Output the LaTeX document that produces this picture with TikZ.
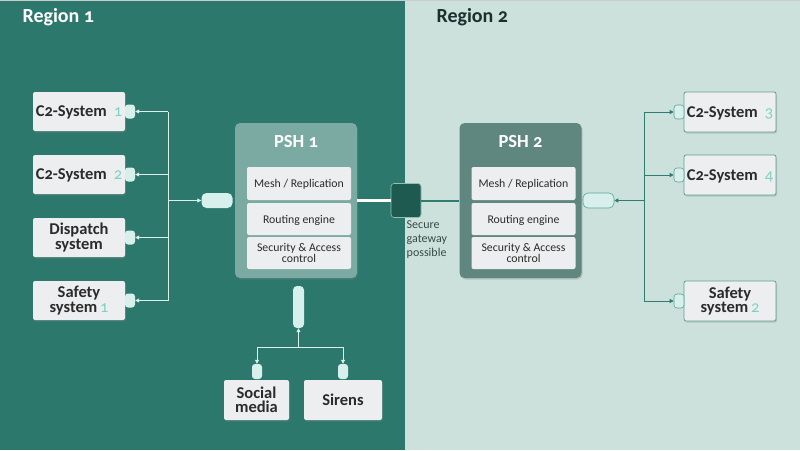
\documentclass[tikz,border=0pt]{standalone}
\usepackage{fontspec}
\setmainfont{Carlito}[Numbers=OldStyle]
\usetikzlibrary{shadows,arrows.meta}
\definecolor{bgdark}{HTML}{2C786D}
\definecolor{bglight}{HTML}{CCE0DC}
\definecolor{boxfill}{HTML}{ECEEEF}
\definecolor{txt}{HTML}{2B2B2B}
\definecolor{mint}{HTML}{D7F0EB}
\definecolor{mintdig}{HTML}{7DD3C1}
\definecolor{pshone}{HTML}{7AAAA2}
\definecolor{pshtwo}{HTML}{5F877F}
\definecolor{gate}{HTML}{1F5A50}
\definecolor{gateborder}{HTML}{8FBFB6}
\definecolor{lline}{HTML}{DCEFEA}
\definecolor{rline}{HTML}{2E7D70}
\definecolor{rborder}{HTML}{5CA597}
\definecolor{rtwotext}{HTML}{1B302C}
\definecolor{gwtext}{HTML}{3A4A47}
\newcommand\dg[1]{{\color{mintdig}\mdseries #1}}
\begin{document}
\begin{tikzpicture}[x=1pt,y=-1pt,
 sysbox/.style={fill=boxfill, rounded corners=2pt, minimum width=92pt, minimum height=39pt, inner sep=0pt, align=center, text=txt, font=\fontsize{16.5}{14.5}\selectfont\bfseries, drop shadow={opacity=0.3, shadow xshift=1pt, shadow yshift=-1.5pt}},
 rsysbox/.style={sysbox, draw=rborder, line width=0.8pt, minimum height=40pt},
 oneline/.style={text depth=0pt},
 port/.style={fill=mint, rounded corners=3pt, inner sep=0pt, minimum width=10pt, minimum height=14pt},
 rport/.style={port, draw=rborder, line width=0.6pt},
 hub/.style={fill=mint, rounded corners=5pt, inner sep=0pt, minimum width=31pt, minimum height=15pt},
 psh/.style={rounded corners=5pt, minimum width=122pt, minimum height=155pt, inner sep=0pt, drop shadow={opacity=0.3, shadow xshift=1pt, shadow yshift=-1.5pt}},
 pshtitle/.style={text=white, font=\fontsize{18.5}{18}\selectfont\bfseries},
 innerbox/.style={fill=boxfill, rounded corners=2pt, minimum width=104pt, inner sep=0pt, align=center, text=txt, font=\fontsize{11.8}{10.5}\selectfont},
 lconn/.style={draw=lline, line width=0.8pt},
 rconn/.style={draw=rline, line width=0.8pt},
 arrowtip/.style={-{Triangle[length=4pt,width=4pt]}},
]
\useasboundingbox (0,0) rectangle (800,450);
\fill[bgdark] (0,0) rectangle (405,450);
\fill[bglight] (405,0) rectangle (800,450);
\fill[black!20] (0,0) rectangle (800,1);

\node[anchor=west, text=white, font=\fontsize{20}{20}\selectfont\bfseries] (reg1) at (19,17) {Region 1};
\node[anchor=west, text=rtwotext, font=\fontsize{20}{20}\selectfont\bfseries] (reg2) at (433,17) {Region 2};

% left systems
\node[sysbox, oneline] (c1) at (79,111.5) {C2-System\hspace{7pt}\dg{1}};
\node[sysbox, oneline] (c2) at (79,174.5) {C2-System\hspace{7pt}\dg{2}};
\node[sysbox] (ds) at (79,237.5) {Dispatch\\system};
\node[sysbox] (s1) at (79,300.5) {Safety\\system\,\dg{1}};
\node[port] (p1) at (130,111.5) {};
\node[port] (p2) at (130,174.5) {};
\node[port] (p3) at (130,237.5) {};
\node[port] (p4) at (130,300.5) {};
\node[hub] (hl) at (217,200.5) {};
\coordinate (jl) at (168,200.5);
\draw[lconn] (jl |- p1) -- (jl |- p4);
\draw[lconn,arrowtip] (jl |- p1) -- (p1.east);
\draw[lconn,arrowtip] (jl |- p2) -- (p2.east);
\draw[lconn,arrowtip] (jl |- p3) -- (p3.east);
\draw[lconn,arrowtip] (jl |- p4) -- (p4.east);
\draw[lconn,arrowtip] (jl) -- (hl.west);

% PSH 1
\node[psh, fill=pshone] (psh1) at (296,200.5) {};
\node[pshtitle, oneline] (t1) at (296,141) {PSH 1};
\node[innerbox, oneline, minimum height=33pt] (m1) at (299,183.5) {Mesh / Replication};
\node[innerbox, oneline, minimum height=32pt] (re1) at (299,219) {Routing engine};
\node[innerbox, minimum height=32pt] (sa1) at (299,253) {Security \& Access\\control};

% PSH 2
\node[psh, fill=pshtwo] (psh2) at (520.5,200.5) {};
\node[pshtitle, oneline] (t2) at (520.5,141) {PSH 2};
\node[innerbox, oneline, minimum height=33pt] (m2) at (523.5,183.5) {Mesh / Replication};
\node[innerbox, oneline, minimum height=32pt] (re2) at (523.5,219) {Routing engine};
\node[innerbox, minimum height=32pt] (sa2) at (523.5,253) {Security \& Access\\control};

% gateway
\node[fill=gate, draw=gateborder, line width=0.6pt, rounded corners=3pt, minimum width=30pt, minimum height=34pt, inner sep=0pt] (gw) at (406,200.5) {};
\draw[white, line width=2.5pt] (psh1.east) -- (gw.west);
\draw[rline, line width=2pt] (gw.east) -- (psh2.west);
\node[anchor=north west, align=left, inner sep=0pt, text=gwtext, font=\fontsize{12}{14}\selectfont] (gwt) at (406.5,221) {Secure\\gateway\\possible};

% right systems
\node[rsysbox, oneline] (c3) at (730,112) {C2-System\hspace{7pt}\dg{3}};
\node[rsysbox, oneline] (c4) at (730,175) {C2-System\hspace{7pt}\dg{4}};
\node[rsysbox] (s2) at (730,301) {Safety\\system\,\dg{2}};
\node[rport] (q1) at (679,112) {};
\node[rport] (q2) at (679,175) {};
\node[rport] (q3) at (679,301) {};
\node[hub, draw=rborder, line width=0.6pt] (hr) at (598.5,200.5) {};
\coordinate (jr) at (644,200.5);
\draw[rconn] (jr |- q1) -- (jr |- q3);
\draw[rconn,arrowtip] (jr |- q1) -- (q1.west);
\draw[rconn,arrowtip] (jr |- q2) -- (q2.west);
\draw[rconn,arrowtip] (jr |- q3) -- (q3.west);
\draw[rconn,arrowtip] (jr) -- (hr.east);

% bottom
\node[port, minimum width=11pt, minimum height=42pt, rounded corners=4pt] (vp) at (298.5,307) {};
\coordinate (jb) at (298.5,347);
\node[sysbox, minimum width=65pt, minimum height=40pt] (sm) at (256.5,400) {Social\\media};
\node[sysbox, oneline, minimum width=78pt, minimum height=40pt] (sr) at (343,400) {Sirens};
\node[port, minimum height=15pt] (b1) at (257,371.5) {};
\node[port, minimum height=15pt] (b2) at (343,371.5) {};
\draw[lconn,arrowtip] (jb) -- (vp.south);
\draw[lconn] (jb -| b1) -- (jb -| b2);
\draw[lconn,arrowtip] (jb -| b1) -- (b1.north);
\draw[lconn,arrowtip] (jb -| b2) -- (b2.north);
\end{tikzpicture}
\end{document}
